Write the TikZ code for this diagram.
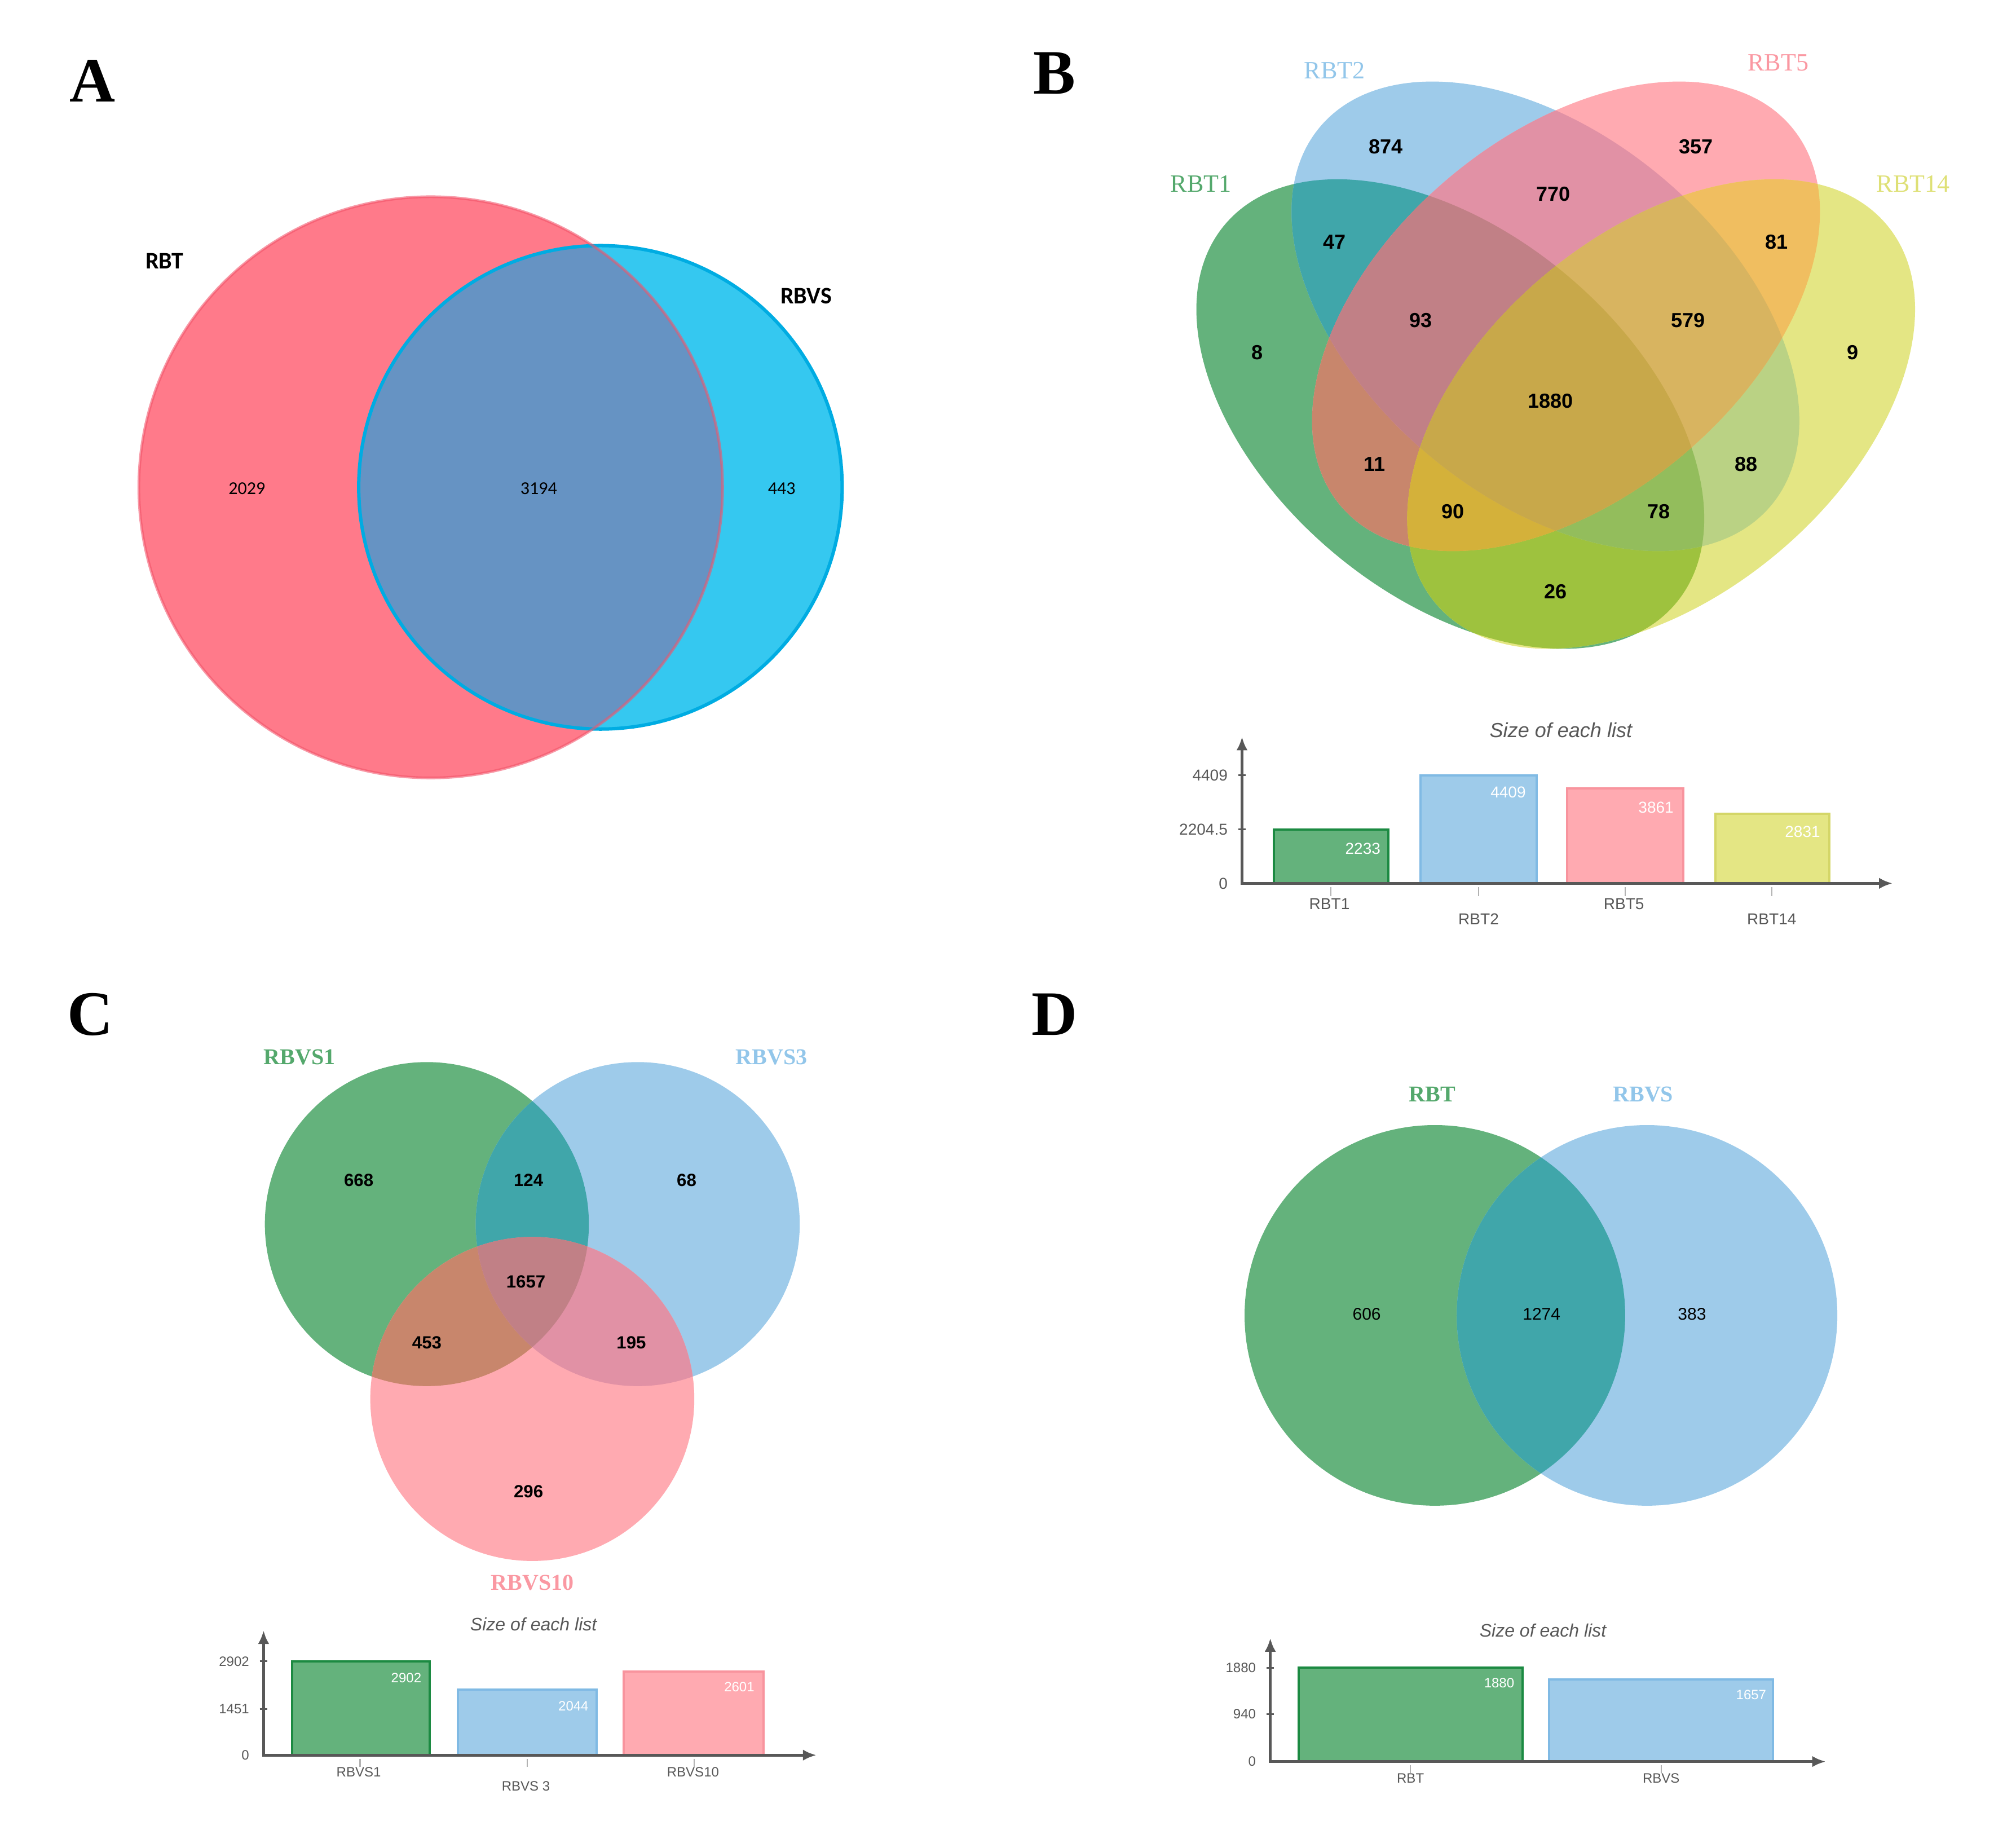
\documentclass[tikz,border=0pt]{standalone}
\usepackage{fontspec}
\setmainfont{Liberation Serif}
\newfontfamily\arialfont{Liberation Sans}
\newfontfamily\calibfont{Carlito}
\usetikzlibrary{arrows.meta}

\definecolor{redA}{RGB}{255,122,138}
\definecolor{redAline}{RGB}{242,84,106}
\definecolor{cyanA}{RGB}{53,200,240}
\definecolor{cyanAline}{RGB}{0,172,226}
\definecolor{mixA}{RGB}{102,147,195}

\definecolor{vGreen}{RGB}{100,178,124}
\definecolor{vBlue}{RGB}{158,203,234}
\definecolor{vPink}{RGB}{255,170,177}
\definecolor{vYellow}{RGB}{228,230,132}
\definecolor{vGB}{RGB}{64,166,170}
\definecolor{vGP}{RGB}{200,134,108}
\definecolor{vGY}{RGB}{158,194,62}
\definecolor{vBP}{RGB}{225,145,165}
\definecolor{vBY}{RGB}{186,210,132}
\definecolor{vPY}{RGB}{240,190,96}
\definecolor{vGBP}{RGB}{193,128,134}
\definecolor{vGBY}{RGB}{147,189,92}
\definecolor{vGPY}{RGB}{212,177,58}
\definecolor{vBPY}{RGB}{216,180,96}
\definecolor{vAll}{RGB}{200,168,74}

\definecolor{tGreen}{RGB}{84,168,108}
\definecolor{tBlue}{RGB}{146,198,234}
\definecolor{tPink}{RGB}{250,152,162}
\definecolor{tYellow}{RGB}{222,224,118}

\definecolor{lGreen}{RGB}{28,138,66}
\definecolor{lBlue}{RGB}{128,186,228}
\definecolor{lPink}{RGB}{248,148,158}
\definecolor{lYellow}{RGB}{212,214,104}
\definecolor{axisgray}{RGB}{88,88,88}

\tikzstyle{panel_letter} = [font=\fontsize{28}{30}\selectfont\bfseries]
\tikzstyle{set_label} = [font=\fontsize{11}{12}\selectfont]
\tikzstyle{set_label_bold} = [font=\fontsize{10}{12}\selectfont\bfseries]
\tikzstyle{name_a} = [font=\calibfont\fontsize{10.5}{12}\selectfont\bfseries]
\tikzstyle{count_a} = [font=\calibfont\fontsize{8}{9}\selectfont]
\tikzstyle{count_b} = [font=\arialfont\fontsize{9}{10}\selectfont\bfseries]
\tikzstyle{count_c} = [font=\arialfont\fontsize{7.8}{9}\selectfont\bfseries]
\tikzstyle{count_d} = [font=\arialfont\fontsize{7.5}{9}\selectfont]
\tikzstyle{bar_title} = [font=\arialfont\itshape\fontsize{9}{10}\selectfont, text=axisgray]
\tikzstyle{bar_title_small} = [font=\arialfont\itshape\fontsize{8}{9}\selectfont, text=axisgray]
\tikzstyle{bar_text} = [font=\arialfont\fontsize{7}{8}\selectfont, text=axisgray]
\tikzstyle{bar_text_small} = [font=\arialfont\fontsize{6}{7}\selectfont, text=axisgray]
\tikzstyle{bar_value} = [font=\arialfont\fontsize{7}{8}\selectfont, text=white]
\tikzstyle{bar_value_small} = [font=\arialfont\fontsize{6}{7}\selectfont, text=white]
\tikzstyle{axis_line} = [draw=axisgray, line width=1.3pt, {Latex[length=6pt,width=5pt]}-{Latex[length=6pt,width=5pt]}]
\tikzstyle{y_tick} = [draw=axisgray, line width=0.8pt]
\tikzstyle{x_tick} = [draw=gray!60, line width=0.6pt]

% the four lists of panel B
\newcommand{\ellGreen}[1]{#1[rotate around={-40:(1128,322)}] (1128,322) ellipse (229 and 141);}
\newcommand{\ellBlue}[1]{#1[rotate around={-40:(1202,246)}] (1202,246) ellipse (229 and 141);}
\newcommand{\ellPink}[1]{#1[rotate around={40:(1218,246)}] (1218,246) ellipse (229 and 141);}
\newcommand{\ellYellow}[1]{#1[rotate around={40:(1292,322)}] (1292,322) ellipse (229 and 141);}

\begin{document}
\begin{tikzpicture}[x=0.02cm, y=-0.02cm]
\useasboundingbox (0,0) rectangle (1568,1433);

% ---------- A ----------
\fill[redA] (335,379) ellipse (227 and 226);
\fill[cyanA] (467,379) circle (188);
\begin{scope}
\clip (335,379) ellipse (227 and 226);
\fill[mixA] (467,379) circle (188);
\end{scope}
\draw[cyanAline, line width=1.5pt] (467,379) circle (188);
\draw[redAline, line width=1.2pt, draw opacity=0.6] (335,379) ellipse (227 and 226);

\node (pA) at (72,63) [panel_letter] {A};
\node (nRBT) at (128,203) [name_a] {RBT};
\node (nRBVS) at (627,230) [name_a] {RBVS};
\node (a1) at (192,380) [count_a] {2029};
\node (a2) at (419,380) [count_a] {3194};
\node (a3) at (608,380) [count_a] {443};

% ---------- B ----------
\ellGreen{\fill[vGreen]}
\ellBlue{\fill[vBlue]}
\ellPink{\fill[vPink]}
\ellYellow{\fill[vYellow]}
\begin{scope}\ellGreen{\clip}\ellBlue{\fill[vGB]}\end{scope}
\begin{scope}\ellGreen{\clip}\ellPink{\fill[vGP]}\end{scope}
\begin{scope}\ellGreen{\clip}\ellYellow{\fill[vGY]}\end{scope}
\begin{scope}\ellBlue{\clip}\ellPink{\fill[vBP]}\end{scope}
\begin{scope}\ellBlue{\clip}\ellYellow{\fill[vBY]}\end{scope}
\begin{scope}\ellPink{\clip}\ellYellow{\fill[vPY]}\end{scope}
\begin{scope}\ellGreen{\clip}\ellBlue{\clip}\ellPink{\fill[vGBP]}\end{scope}
\begin{scope}\ellGreen{\clip}\ellBlue{\clip}\ellYellow{\fill[vGBY]}\end{scope}
\begin{scope}\ellGreen{\clip}\ellPink{\clip}\ellYellow{\fill[vGPY]}\end{scope}
\begin{scope}\ellBlue{\clip}\ellPink{\clip}\ellYellow{\fill[vBPY]}\end{scope}
\begin{scope}\ellGreen{\clip}\ellBlue{\clip}\ellPink{\clip}\ellYellow{\fill[vAll]}\end{scope}

\node (pB) at (820,57) [panel_letter] {B};
\node (sT1) at (934,143) [set_label, text=tGreen] {RBT1};
\node (sT2) at (1038,55) [set_label, text=tBlue] {RBT2};
\node (sT5) at (1383,49) [set_label, text=tPink] {RBT5};
\node (sT14) at (1488,143) [set_label, text=tYellow] {RBT14};

\node (b1) at (1078,114) [count_b] {874};
\node (b2) at (1319,114) [count_b] {357};
\node (b3) at (1208,151) [count_b] {770};
\node (b4) at (1038,188) [count_b] {47};
\node (b5) at (1382,188) [count_b] {81};
\node (b6) at (1105,249) [count_b] {93};
\node (b7) at (1313,249) [count_b] {579};
\node (b8) at (978,274) [count_b] {8};
\node (b9) at (1441,274) [count_b] {9};
\node (b10) at (1206,312) [count_b] {1880};
\node (b11) at (1069,361) [count_b] {11};
\node (b12) at (1358,361) [count_b] {88};
\node (b13) at (1130,398) [count_b] {90};
\node (b14) at (1290,398) [count_b] {78};
\node (b15) at (1210,460) [count_b] {26};

% size of each list (B)
\filldraw[fill=vGreen, draw=lGreen, line width=1pt] (991,687) rectangle (1080,645);
\filldraw[fill=vBlue, draw=lBlue, line width=1pt] (1105,687) rectangle (1195,603);
\filldraw[fill=vPink, draw=lPink, line width=1pt] (1219,687) rectangle (1309,613);
\filldraw[fill=vYellow, draw=lYellow, line width=1pt] (1334,687) rectangle (1423,633);

\coordinate (bO) at (966,687);
\coordinate (bY) at (966,573);
\coordinate (bX) at (1472,687);
\draw[axis_line] (bY) -- (bO) -- (bX);
\foreach \y in {603,645} \draw[y_tick] (963,\y) -- (969,\y);
\foreach \x in {1035,1150,1264,1378} \draw[x_tick] (\x,690) -- (\x,697);

\node (bTitle) at (1214,568) [bar_title] {Size of each list};
\node (bk1) at (961,603) [bar_text, anchor=east] {4409};
\node (bk2) at (961,645) [bar_text, anchor=east] {2204.5};
\node (bk3) at (961,687) [bar_text, anchor=east] {0};
\node (bv1) at (1060,660) [bar_value] {2233};
\node (bv2) at (1173,616) [bar_value] {4409};
\node (bv3) at (1288,628) [bar_value] {3861};
\node (bv4) at (1402,647) [bar_value] {2831};
\node (bl1) at (1034,703) [bar_text] {RBT1};
\node (bl2) at (1150,715) [bar_text] {RBT2};
\node (bl3) at (1263,703) [bar_text] {RBT5};
\node (bl4) at (1378,715) [bar_text] {RBT14};

% ---------- C ----------
\fill[vGreen] (332,952) circle (126);
\fill[vBlue] (496,952) circle (126);
\fill[vPink] (414,1088) circle (126);
\begin{scope}\clip (332,952) circle (126); \fill[vGB] (496,952) circle (126);\end{scope}
\begin{scope}\clip (332,952) circle (126); \fill[vGP] (414,1088) circle (126);\end{scope}
\begin{scope}\clip (496,952) circle (126); \fill[vBP] (414,1088) circle (126);\end{scope}
\begin{scope}\clip (332,952) circle (126); \clip (496,952) circle (126); \fill[vGBP] (414,1088) circle (126);\end{scope}

\node (pC) at (70,789) [panel_letter] {C};
\node (sV1) at (233,822) [set_label_bold, text=tGreen] {RBVS1};
\node (sV3) at (600,822) [set_label_bold, text=tBlue] {RBVS3};
\node (sV10) at (414,1231) [set_label_bold, text=tPink] {RBVS10};

\node (c1) at (279,918) [count_c] {668};
\node (c2) at (411,918) [count_c] {124};
\node (c3) at (534,918) [count_c] {68};
\node (c4) at (409,997) [count_c] {1657};
\node (c5) at (332,1044) [count_c] {453};
\node (c6) at (491,1044) [count_c] {195};
\node (c7) at (411,1160) [count_c] {296};

% size of each list (C)
\filldraw[fill=vGreen, draw=lGreen, line width=1pt] (227,1365) rectangle (334,1292);
\filldraw[fill=vBlue, draw=lBlue, line width=1pt] (356,1365) rectangle (464,1314);
\filldraw[fill=vPink, draw=lPink, line width=1pt] (485,1365) rectangle (594,1300);

\coordinate (cO) at (205,1365);
\coordinate (cY) at (205,1268);
\coordinate (cX) at (635,1365);
\draw[axis_line] (cY) -- (cO) -- (cX);
\foreach \y in {1292,1329} \draw[y_tick] (202,\y) -- (208,\y);
\foreach \x in {280,410,540} \draw[x_tick] (\x,1368) -- (\x,1374);

\node (cTitle) at (415,1263) [bar_title_small] {Size of each list};
\node (ck1) at (200,1292) [bar_text_small, anchor=east] {2902};
\node (ck2) at (200,1329) [bar_text_small, anchor=east] {1451};
\node (ck3) at (200,1365) [bar_text_small, anchor=east] {0};
\node (cv1) at (316,1305) [bar_value_small] {2902};
\node (cv2) at (446,1327) [bar_value_small] {2044};
\node (cv3) at (575,1312) [bar_value_small] {2601};
\node (cl1) at (279,1378) [bar_text_small] {RBVS1};
\node (cl2) at (409,1389) [bar_text_small] {RBVS 3};
\node (cl3) at (539,1378) [bar_text_small] {RBVS10};

% ---------- D ----------
\fill[vGreen] (1116,1023) circle (148);
\fill[vBlue] (1281,1023) circle (148);
\begin{scope}\clip (1116,1023) circle (148); \fill[vGB] (1281,1023) circle (148);\end{scope}

\node (pD) at (820,789) [panel_letter] {D};
\node (sDT) at (1114,851) [set_label_bold, text=tGreen] {RBT};
\node (sDV) at (1278,851) [set_label_bold, text=tBlue] {RBVS};

\node (d1) at (1063,1022) [count_d] {606};
\node (d2) at (1199,1022) [count_d] {1274};
\node (d3) at (1316,1022) [count_d] {383};

% size of each list (D)
\filldraw[fill=vGreen, draw=lGreen, line width=1pt] (1010,1370) rectangle (1184,1297);
\filldraw[fill=vBlue, draw=lBlue, line width=1pt] (1205,1370) rectangle (1379,1306);

\coordinate (dO) at (988,1370);
\coordinate (dY) at (988,1274);
\coordinate (dX) at (1420,1370);
\draw[axis_line] (dY) -- (dO) -- (dX);
\foreach \y in {1297,1333} \draw[y_tick] (985,\y) -- (991,\y);
\foreach \x in {1097,1292} \draw[x_tick] (\x,1373) -- (\x,1379);

\node (dTitle) at (1200,1268) [bar_title_small] {Size of each list};
\node (dk1) at (983,1297) [bar_text_small, anchor=east] {1880};
\node (dk2) at (983,1333) [bar_text_small, anchor=east] {940};
\node (dk3) at (983,1370) [bar_text_small, anchor=east] {0};
\node (dv1) at (1166,1309) [bar_value_small] {1880};
\node (dv2) at (1362,1318) [bar_value_small] {1657};
\node (dl1) at (1097,1383) [bar_text_small] {RBT};
\node (dl2) at (1292,1383) [bar_text_small] {RBVS};
\end{tikzpicture}
\end{document}
